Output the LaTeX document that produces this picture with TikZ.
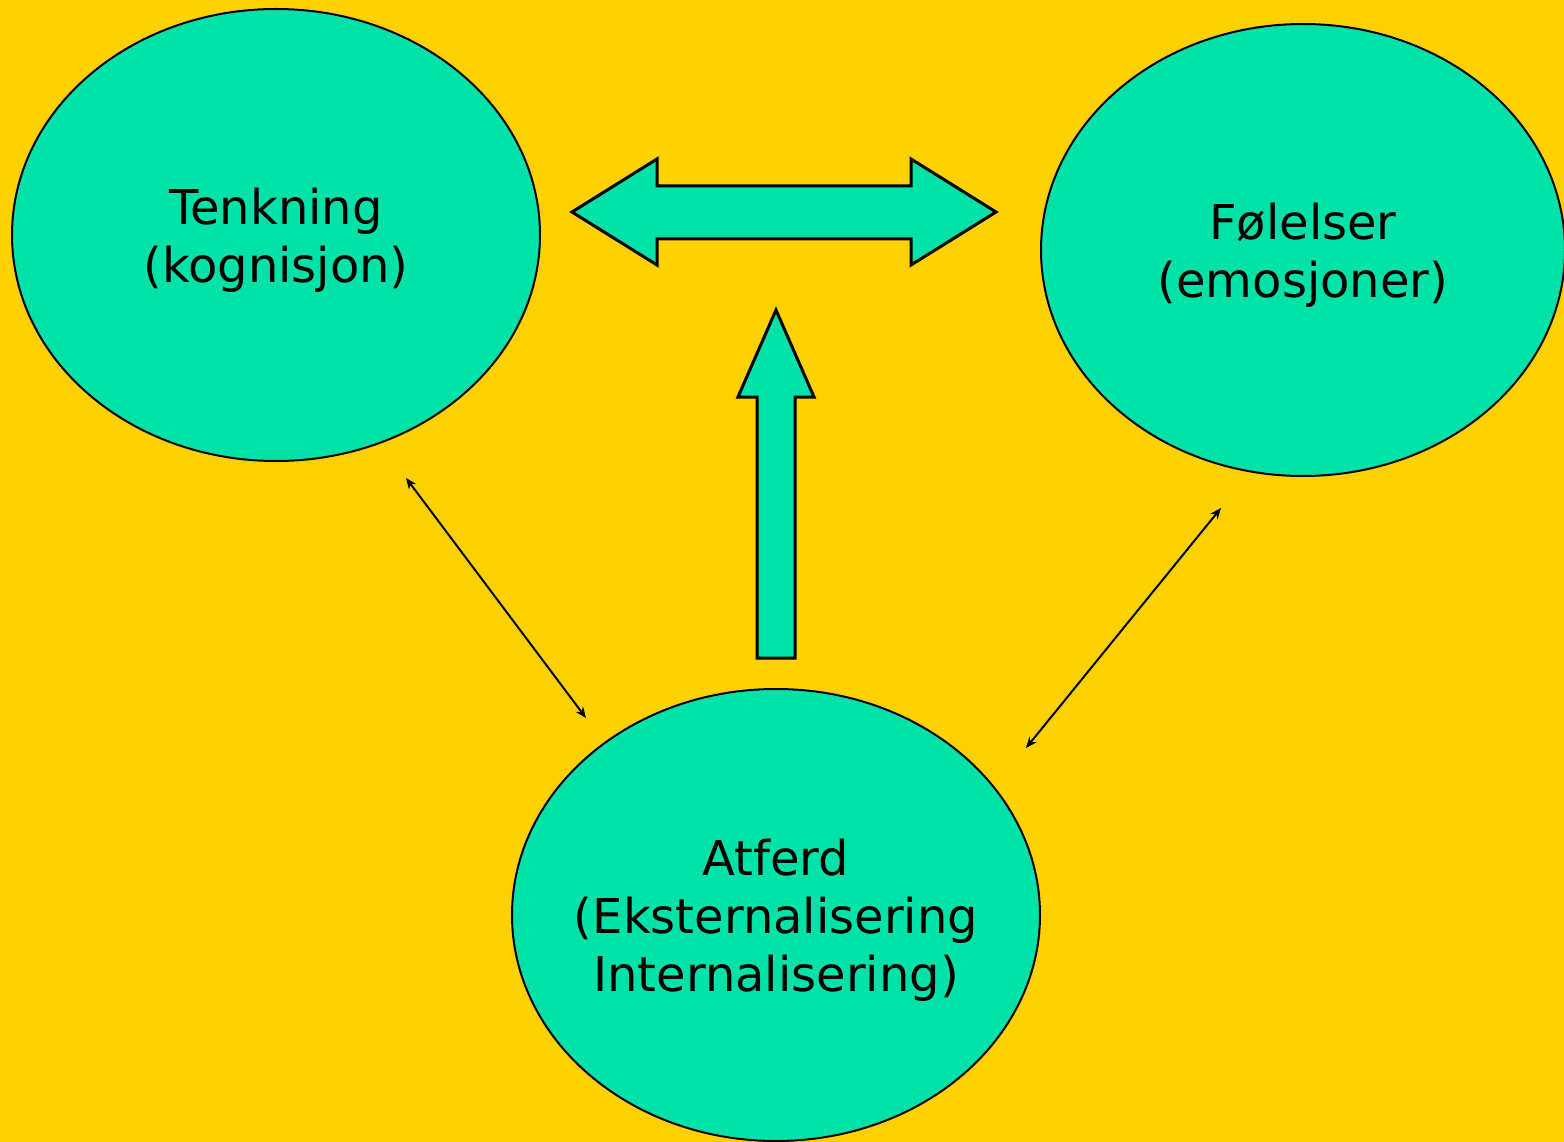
\documentclass[tikz,border=0pt]{standalone}
\usepackage{fontspec}
\setmainfont{DejaVu Sans}
\usetikzlibrary{shapes.geometric,arrows.meta}
\definecolor{bgyellow}{HTML}{FFD100}
\definecolor{teal}{HTML}{00E2A8}
\tikzset{
  blob/.style={ellipse, draw=black, line width=2pt, fill=teal, inner sep=0pt,
    minimum width=528pt, minimum height=452pt},
  txt/.style={align=center, inner sep=0pt, font=\fontsize{48}{58}\selectfont},
  blockarrow/.style={draw=black, line width=3pt, fill=teal, line join=miter},
  link/.style={line width=2pt, {Stealth[length=11pt,width=9pt]}-{Stealth[length=11pt,width=9pt]}}
}
\begin{document}
\begin{tikzpicture}[x=1pt,y=-1pt]
\fill[bgyellow] (0,0) rectangle (1564,1142);
\useasboundingbox (0,0) rectangle (1564,1142);
\node[blob] (tenk) at (276,235) {};
\node[txt] (tenkT) at ([yshift=-5pt]tenk.center) {Tenkning\\(kognisjon)};
\node[blob, minimum width=524pt] (fol) at (1303,250) {};
\node[txt] (folT) at ([yshift=-5pt]fol.center) {Følelser\\(emosjoner)};
\node[blob] (atf) at (776,915) {};
\node[txt] (atfT) at ([yshift=-5pt]atf.center) {Atferd\\(Eksternalisering\\Internalisering)};
% double block arrow
\draw[blockarrow] (572,212) -- (657,159) -- (657,186) -- (911,186) -- (911,159) -- (996,212)
  -- (911,265) -- (911,239) -- (657,239) -- (657,265) -- cycle;
% up block arrow
\draw[blockarrow] (776,310) -- (814,397) -- (795,397) -- (795,658) -- (757,658) -- (757,397) -- (738,397) -- cycle;
% thin links
\coordinate (a1) at (406,478);
\coordinate (a2) at (586,718);
\coordinate (b1) at (1221,508);
\coordinate (b2) at (1026,748);
\draw[link] (a1) -- (a2);
\draw[link] (b1) -- (b2);
\end{tikzpicture}
\end{document}
